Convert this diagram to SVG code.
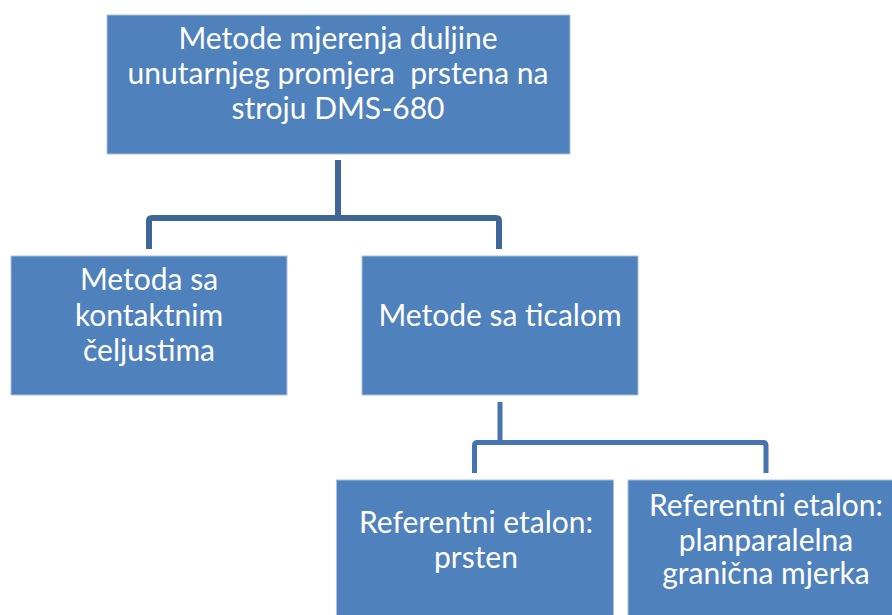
<svg xmlns="http://www.w3.org/2000/svg" width="892" height="615" viewBox="0 0 892 615">
<style>
.box{fill:#4F81BD;stroke:#A9C1E0;stroke-width:1}
.t{font-family:Lato,"Liberation Sans",sans-serif;font-size:30px;fill:#FFFFFF;text-anchor:middle}
.c1{fill:none;stroke:#3E6797;stroke-width:6;stroke-linejoin:round}
.c2{fill:none;stroke:#4674AE;stroke-width:5;stroke-linejoin:round}
</style>
<rect width="892" height="615" fill="#FFFFFF"/>
<g id="connectors">
<path class="c1" d="M338 160 V218"/>
<path class="c1" d="M149 249 V221 Q149 218 152 218 H496 Q499 218 499 221 V249"/>
<path class="c2" d="M500 402 V443"/>
<path class="c2" d="M474.5 473 V445.5 Q474.5 442.5 477.5 442.5 H763 Q766 442.5 766 445.5 V473"/>
</g>
<g id="root">
<rect class="box" x="107" y="15" width="463" height="139"/>
<text class="t" x="338" y="49">Metode mjerenja duljine</text>
<text class="t" x="338" y="84" xml:space="preserve">unutarnjeg promjera  prstena na</text>
<text class="t" x="338" y="119">stroju DMS-680</text>
</g>
<g id="kontaktne">
<rect class="box" x="11" y="256" width="276" height="139"/>
<text class="t" x="149" y="290">Metoda sa</text>
<text class="t" x="149" y="326">kontaktnim</text>
<text class="t" x="149" y="361">čeljustima</text>
</g>
<g id="ticalo">
<rect class="box" x="362" y="256" width="276" height="139"/>
<text class="t" x="500" y="326">Metode sa ticalom</text>
</g>
<g id="prsten">
<rect class="box" x="336.5" y="480" width="277" height="140"/>
<text class="t" x="476" y="533">Referentni etalon:</text>
<text class="t" x="476" y="568">prsten</text>
</g>
<g id="mjerka">
<rect class="box" x="628" y="480" width="277" height="140"/>
<text class="t" x="766" y="516">Referentni etalon:</text>
<text class="t" x="766" y="551">planparalelna</text>
<text class="t" x="766" y="584">granična mjerka</text>
</g>
</svg>
